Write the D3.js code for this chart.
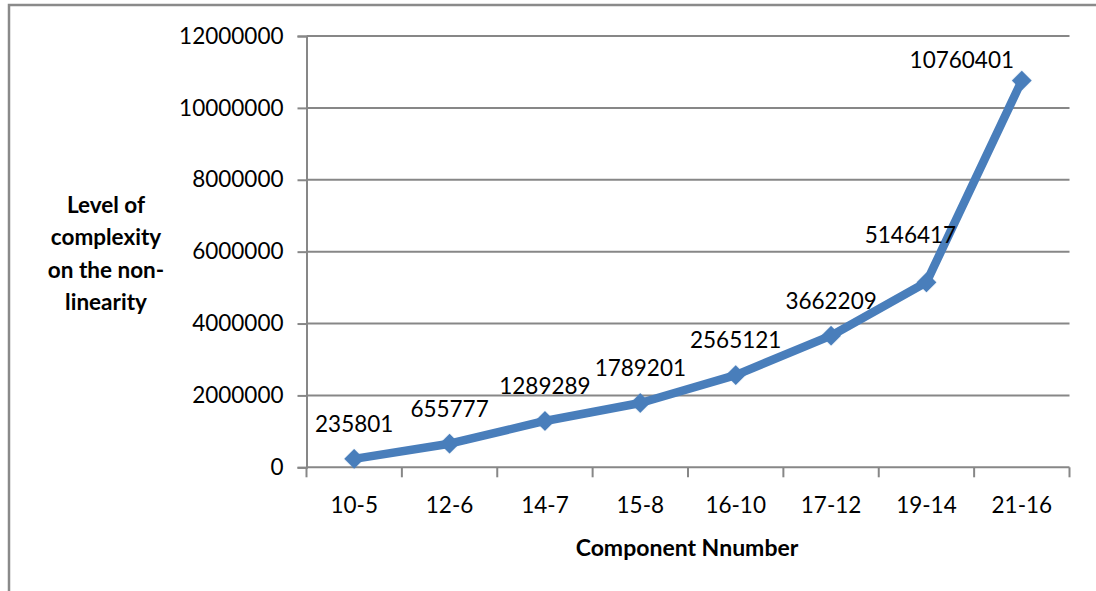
<!DOCTYPE html>
<html>
<head>
<meta charset="utf-8">
<script src="https://cdn.jsdelivr.net/npm/d3@7"></script>
<style>
  html, body { margin: 0; padding: 0; background: #fff; }
  svg { display: block; font-family: Lato, "Open Sans", sans-serif; }
</style>
</head>
<body>
<svg id="chart" width="1096" height="591"></svg>
<script>
// Component sizes and their complexity level
const categories = ["10-5", "12-6", "14-7", "15-8", "16-10", "17-12", "19-14", "21-16"];
const complexity = [235801, 655777, 1289289, 1789201, 2565121, 3662209, 5146417, 10760401];
const yTicks = [0, 2000000, 4000000, 6000000, 8000000, 10000000, 12000000];
const yTitleLines = ["Level of", "complexity", "on the non-", "linearity"];
const xTitle = "Component Nnumber";

// label nudges (dx, dy) relative to the default "above" placement
const labelNudge = [[0, 0], [0, 0], [0, 0], [0, 0], [0, 0], [0, 0], [-16, -12], [-60, 14]];

const W = 1096, H = 591;
const plot = { left: 306.5, right: 1069.5, top: 36, bottom: 467.3 };
const gridColor = "#878787";
const lineColor = "#4a7ebb";

const svg = d3.select("#chart");

// outer chart frame
svg.append("rect")
  .attr("x", 9).attr("y", 5)
  .attr("width", W + 20).attr("height", H + 20)
  .attr("fill", "#fff")
  .attr("stroke", "#8a8a8a").attr("stroke-width", 2.5);

const x = d3.scaleBand().domain(categories).range([plot.left, plot.right]).paddingInner(0).paddingOuter(0);
const y = d3.scaleLinear().domain([0, 12000000]).range([plot.bottom, plot.top]);

// horizontal gridlines + y axis
const yAxis = d3.axisLeft(y).tickValues(yTicks).tickSize(9).tickPadding(14).tickFormat(d3.format("d"));
const gy = svg.append("g").attr("transform", `translate(${plot.left},0)`).call(yAxis);
gy.select(".domain").attr("stroke", gridColor).attr("stroke-width", 2);
gy.selectAll(".tick line").attr("stroke", gridColor).attr("stroke-width", 2);
gy.selectAll(".tick text").attr("fill", "#000").style("font-size", "22.5px").attr("font-family", "Lato");

svg.append("g")
  .selectAll("line")
  .data(yTicks.filter(t => t > 0))
  .join("line")
  .attr("x1", plot.left).attr("x2", plot.right)
  .attr("y1", d => y(d)).attr("y2", d => y(d))
  .attr("stroke", gridColor).attr("stroke-width", 2);

// x axis with ticks at category boundaries
const gx = svg.append("g").attr("transform", `translate(0,${plot.bottom})`);
gx.append("line")
  .attr("x1", plot.left).attr("x2", plot.right)
  .attr("stroke", gridColor).attr("stroke-width", 2);
const bounds = categories.map(c => x(c)).concat([x(categories[categories.length - 1]) + x.bandwidth()]);
gx.selectAll("line.tk").data(bounds).join("line")
  .attr("class", "tk")
  .attr("x1", d => d).attr("x2", d => d)
  .attr("y1", 0).attr("y2", 10)
  .attr("stroke", gridColor).attr("stroke-width", 2);
gx.selectAll("text").data(categories).join("text")
  .attr("x", d => x(d) + x.bandwidth() / 2)
  .attr("y", 46)
  .attr("text-anchor", "middle")
  .style("font-size", "22.5px")
  .text(d => d);

// axis titles
svg.append("text")
  .attr("x", 687).attr("y", 556)
  .attr("text-anchor", "middle")
  .style("font-size", "23px").style("font-weight", "bold")
  .text(xTitle);

svg.append("g").selectAll("text").data(yTitleLines).join("text")
  .attr("x", 106)
  .attr("y", (d, i) => 213 + i * 32.3)
  .attr("text-anchor", "middle")
  .style("font-size", "22.5px").style("font-weight", "bold")
  .text(d => d);

// series
const defs = svg.append("defs");
defs.append("filter").attr("id", "soft")
  .append("feGaussianBlur").attr("stdDeviation", 0.7);

const cx = i => x(categories[i]) + x.bandwidth() / 2;

const line = d3.line()
  .x((d, i) => cx(i))
  .y(d => y(d));

svg.append("path")
  .datum(complexity)
  .attr("d", line)
  .attr("fill", "none")
  .attr("stroke", lineColor)
  .attr("stroke-width", 8.5)
  .attr("stroke-linejoin", "round")
  .attr("filter", "url(#soft)");

const diamond = d3.symbol().type(d3.symbolSquare).size(200);
svg.append("g").selectAll("path").data(complexity).join("path")
  .attr("d", diamond)
  .attr("transform", (d, i) => `translate(${cx(i)},${y(d)}) rotate(45)`)
  .attr("fill", lineColor)
  .attr("filter", "url(#soft)");

// value labels
svg.append("g").selectAll("text").data(complexity).join("text")
  .attr("x", (d, i) => cx(i) + labelNudge[i][0])
  .attr("y", (d, i) => y(d) - 27 + labelNudge[i][1])
  .attr("text-anchor", "middle")
  .style("font-size", "22.5px")
  .text(d => d);
</script>
</body>
</html>
